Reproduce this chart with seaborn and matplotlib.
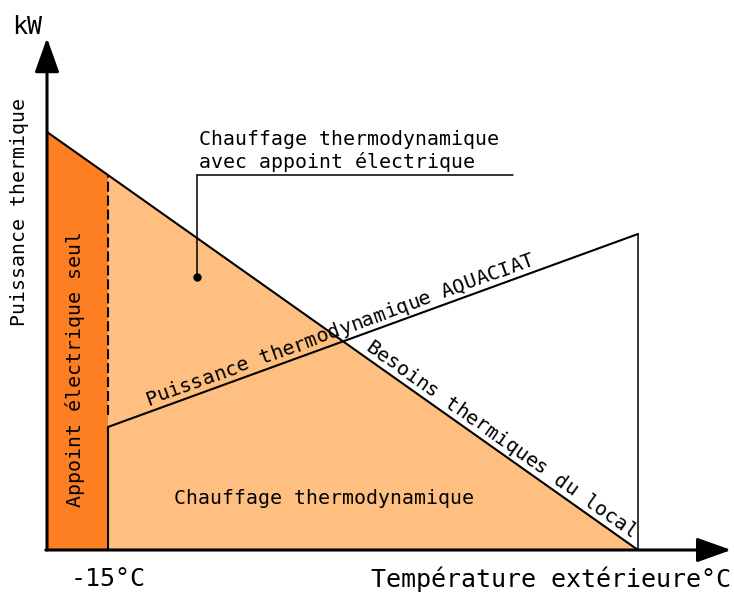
import numpy as np
import seaborn as sns
import matplotlib.pyplot as plt

# schematic data (outdoor temperature in degC, heat in arbitrary kW units)
demand_temp = [-20, -15, 28.5]
demand_kw = [41.8, 37.5, 0.0]
hp_temp = [-15, 28.5]
hp_kw = [12.3, 31.6]
t_min = -15
axis_tip_t = 36.15
axis_tip_kw = 51.2

sns.set_theme(style="white")
plt.rcParams['font.family'] = ['DejaVu Sans Mono', 'DejaVu Sans']
plt.rcParams['text.color'] = 'black'

dark = '#FE7F22'
light = '#FEBF80'

fig = plt.figure(figsize=(7.34, 5.92), dpi=100)
ax = fig.add_axes([0, 0, 1, 1])
ax.set_xlim(-20 - 47 / 12.1856, -20 + 734 / 12.1856 - 47 / 12.1856)
ax.set_ylim(-4.2, 55.0)
ax.axis('off')

# areas under the demand line
ax.fill_between(demand_temp[:2], demand_kw[:2], 0, color=dark, lw=0)
ax.fill_between(demand_temp[1:], demand_kw[1:], 0, color=light, lw=0)

# demand line and heat pump capacity
sns.lineplot(x=demand_temp, y=demand_kw, color='black', lw=1.5, ax=ax)
sns.lineplot(x=hp_temp, y=hp_kw, color='black', lw=1.5, ax=ax)
ax.plot([hp_temp[1], hp_temp[1]], [0, hp_kw[1]], color='black', lw=1.1)
ax.plot([t_min, t_min], [0, hp_kw[0]], color='black', lw=1.5)
ax.plot([t_min, t_min], [hp_kw[0] + 1.2, demand_kw[1]], color='black', lw=1.5,
        dashes=(4.8, 1.9))

# axes with arrows
arrow = dict(arrowstyle='-|>,head_length=2.1,head_width=0.75', mutation_scale=10,
             lw=2.2, color='black', shrinkA=0, shrinkB=0)
ax.annotate('', xy=(demand_temp[0], axis_tip_kw), xytext=(demand_temp[0], 0),
            arrowprops=arrow)
ax.annotate('', xy=(axis_tip_t, 0), xytext=(demand_temp[0] - 0.1, 0),
            arrowprops=arrow)


def label_along(xs, ys, t_start, s, offset_px, size):
    # place characters one by one so the label stays parallel to the line
    p = ax.transData.transform(np.column_stack([xs, ys]))
    d = p[-1] - p[0]
    u = d / np.hypot(*d)
    n = np.array([-u[1], u[0]])
    start = ax.transData.transform((t_start, np.interp(t_start, xs, ys))) + n * offset_px
    angle = np.degrees(np.arctan2(u[1], u[0]))
    pitch = 0.6021 * size * fig.dpi / 72
    inv = ax.transData.inverted()
    for i, ch in enumerate(s):
        if ch == ' ':
            continue
        x, y = inv.transform(start + u * pitch * (i + 0.5))
        ax.text(x, y, ch, fontsize=size, rotation=angle, rotation_mode='anchor',
                ha='center', va='baseline')


big = 18
body = 14.3

ax.text(-21.6, 52.3, 'kW', fontsize=big, ha='center', va='center')
ax.text(axis_tip_t, -2.9, 'Température extérieure°C', fontsize=big,
        ha='right', va='center')
ax.text(t_min, -2.9, '-15°C', fontsize=big, ha='center', va='center')
ax.text(-22.25, 33.8, 'Puissance thermique', fontsize=body, rotation=90,
        ha='center', va='center')
ax.text(-17.70, 18.1, 'Appoint électrique seul', fontsize=body, rotation=90,
        ha='center', va='center')
ax.text(2.77, 5.2, 'Chauffage thermodynamique', fontsize=body,
        ha='center', va='center')

label_along(hp_temp, hp_kw, -11.55, 'Puissance thermodynamique AQUACIAT', 6.5, 14.5)
label_along(demand_temp[1:], demand_kw[1:], 5.77, 'Besoins thermiques du local', 5.0, 14.5)

# leader label
ax.text(-7.53, 37.84, 'Chauffage thermodynamique\navec appoint électrique',
        fontsize=body, ha='left', va='bottom', linespacing=1.15)
ax.plot([-7.69, 18.24], [37.5, 37.5], color='black', lw=1.1)
ax.plot([-7.69, -7.69], [37.5, 27.3], color='black', lw=1.1)
ax.plot([-7.69], [27.3], 'o', color='black', ms=5)

fig.savefig('out.png', dpi=100)
